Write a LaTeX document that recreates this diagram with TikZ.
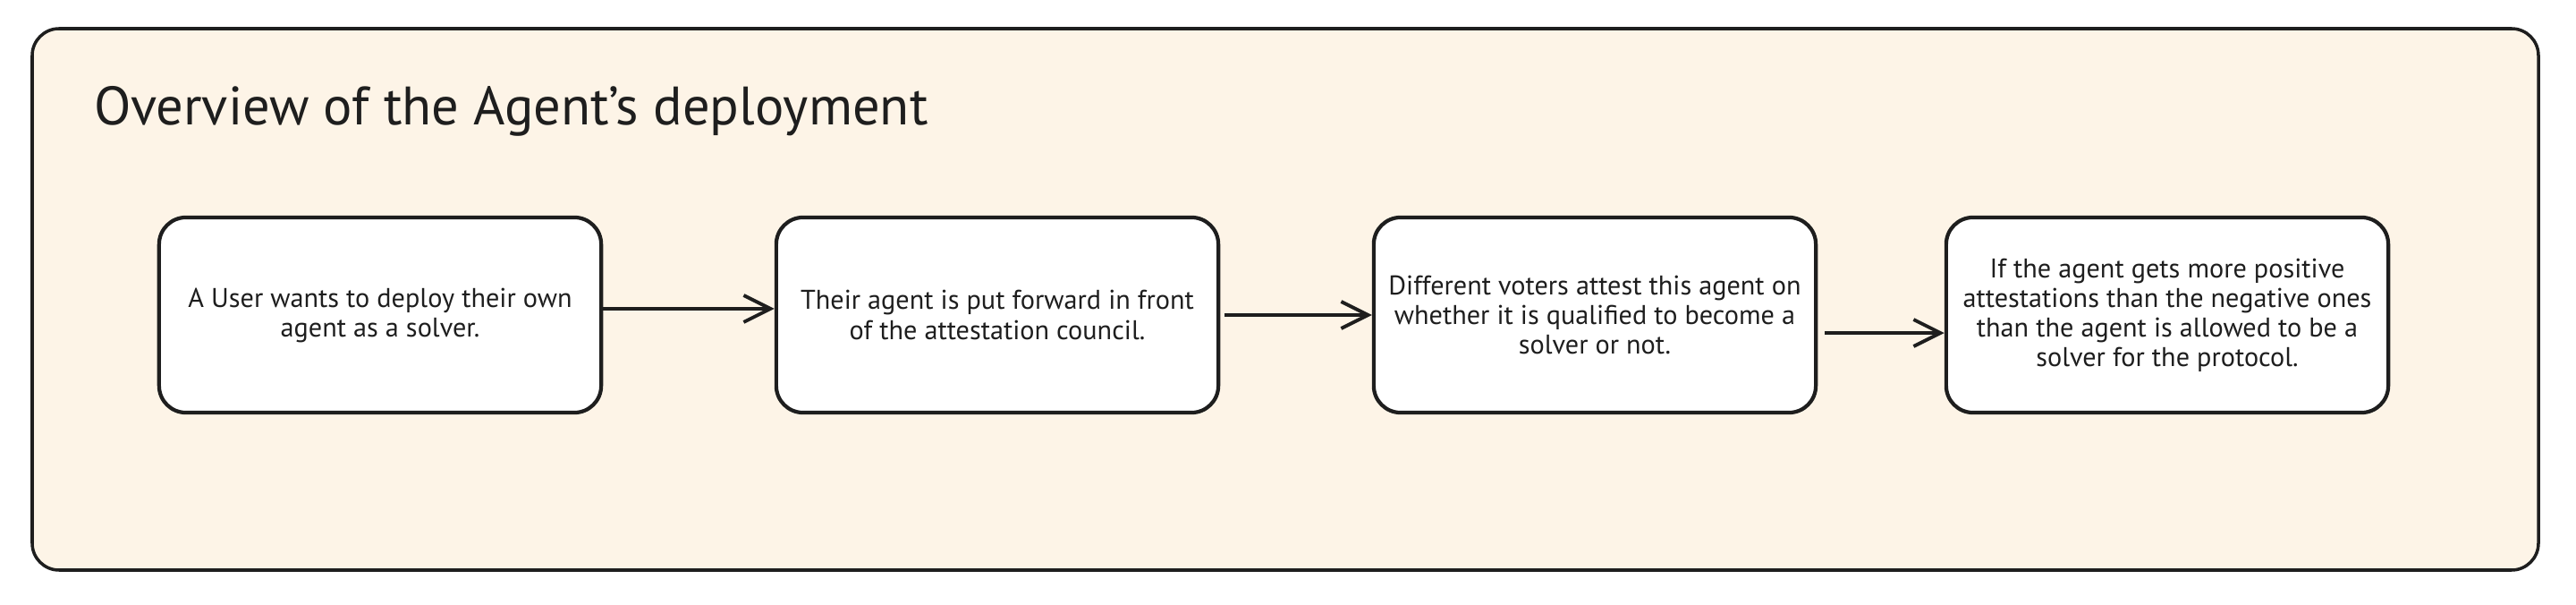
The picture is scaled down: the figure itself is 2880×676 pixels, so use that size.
\documentclass[tikz,border=0pt]{standalone}
\usepackage{fontspec}
\setmainfont{PT Sans}
\usetikzlibrary{arrows.meta}
\definecolor{ink}{HTML}{1E1E1E}
\definecolor{cream}{HTML}{FDF4E7}
\begin{document}
\begin{tikzpicture}[x=0.01cm,y=-0.01cm,
  stepbox/.style={draw=ink, fill=white, line width=1.2pt, rounded corners=0.3cm,
    minimum width=4.94cm, minimum height=2.18cm, align=center,
    font=\fontsize{8.6}{9.4}\selectfont, text=ink, inner sep=0pt},
  flow/.style={draw=ink, line width=1.4pt,
    -{Straight Barb[length=0.3cm,width=0.3cm,line width=1.1pt]}}]
\useasboundingbox (0,0) rectangle (2880,676);
\fill[white] (0,0) rectangle (2880,676);
\draw[ink, line width=1pt, fill=cream, rounded corners=0.3cm] (36,32) rectangle (2838,637);
\node[anchor=base west, font=\fontsize{17.2}{20}\selectfont, text=ink, inner sep=0pt] (title) at (105,140) {Overview of the Agent's deployment};
\node[stepbox] (s1) at (425,352) {A User wants to deploy their own\\agent as a solver.};
\node[stepbox] (s2) at (1115,352) {Their agent is put forward in front\\of the attestation council.};
\node[stepbox] (s3) at (1783,352) {Different voters attest this agent on\\whether it is qualified to become a\\solver or not.};
\node[stepbox] (s4) at (2423,352) {If the agent gets more positive\\attestations than the negative ones\\than the agent is allowed to be a\\solver for the protocol.};
\draw[flow] ([yshift=0.07cm]s1.east) -- ([yshift=0.07cm]s2.west);
\draw[flow, shorten <=0.05cm] (s2.east) -- (s3.west);
\draw[flow, shorten <=0.08cm] ([yshift=-0.2cm]s3.east) -- ([yshift=-0.2cm]s4.west);
\end{tikzpicture}
\end{document}
